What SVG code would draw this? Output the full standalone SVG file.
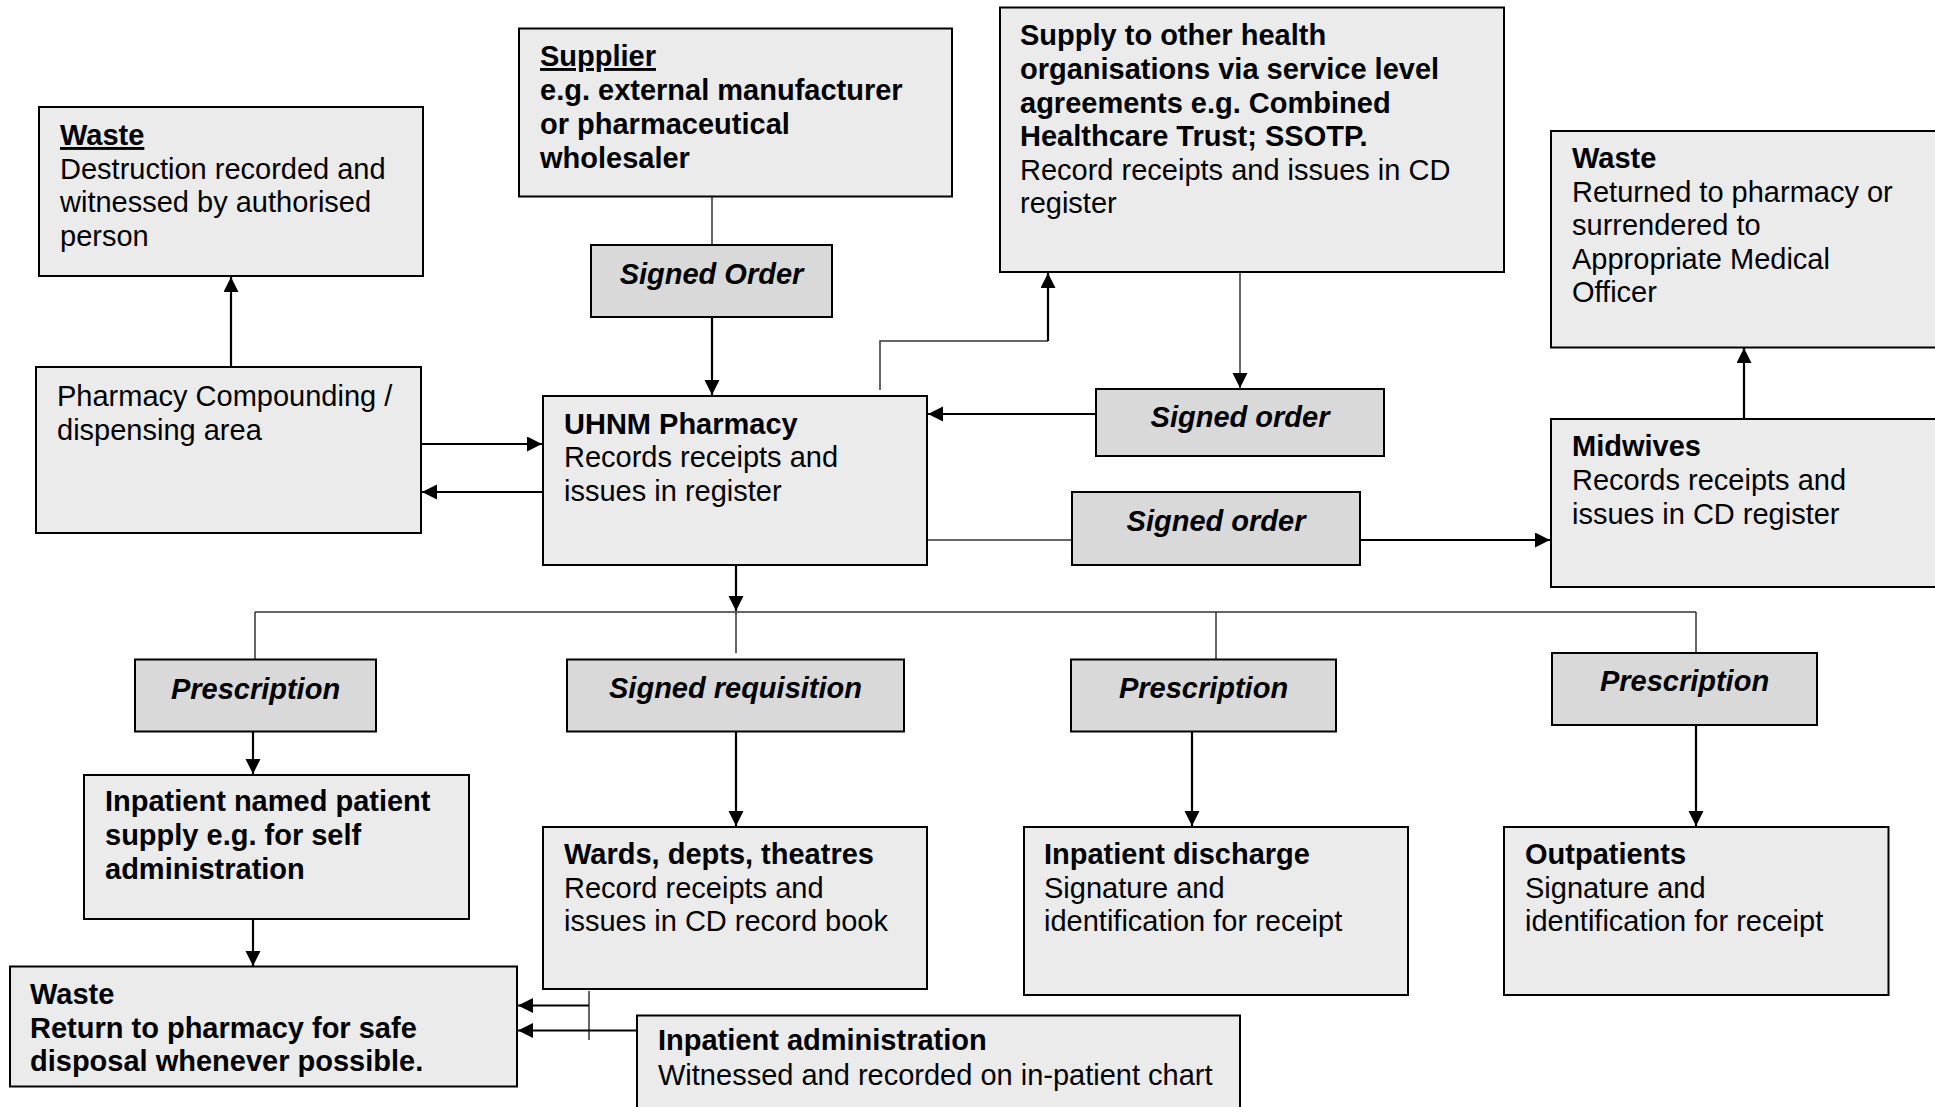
<svg xmlns="http://www.w3.org/2000/svg" width="1935" height="1107" viewBox="0 0 1935 1107">
<style>
text{font-family:"Liberation Sans",Arial,sans-serif;font-size:29px;fill:#000}
.b{font-weight:bold}
.u{text-decoration:underline}
.lbl{font-weight:bold;font-style:italic;text-anchor:middle}
.box{fill:#ebebeb;stroke:#000;stroke-width:2}
.lb{fill:#d9d9d9;stroke:#000;stroke-width:2}
.thick{fill:none;stroke:#000;stroke-width:2.2}
.thin{fill:none;stroke:#333;stroke-width:1.5}
</style>
<defs>
<marker id="ah" markerUnits="userSpaceOnUse" markerWidth="16" markerHeight="16" refX="15" refY="7.5" orient="auto">
<path d="M0,0 L15,7.5 L0,15 z" fill="#000"/>
</marker>
</defs>
<rect width="1935" height="1107" fill="#fff"/>

<g id="connectors">
<line class="thick" x1="231" y1="367" x2="231" y2="277" marker-end="url(#ah)"/>
<line class="thin" x1="712" y1="197" x2="712" y2="245"/>
<line class="thick" x1="712" y1="317" x2="712" y2="395" marker-end="url(#ah)"/>
<line class="thick" x1="422" y1="444" x2="542" y2="444" marker-end="url(#ah)"/>
<line class="thick" x1="543" y1="492" x2="422" y2="492" marker-end="url(#ah)"/>
<polyline class="thin" points="880,390 880,341 1048,341"/>
<line class="thick" x1="1048" y1="341" x2="1048" y2="273" marker-end="url(#ah)"/>
<line class="thin" x1="1240" y1="268" x2="1240" y2="388" marker-end="url(#ah)"/>
<line class="thick" x1="1096" y1="414" x2="928" y2="414" marker-end="url(#ah)"/>
<line class="thin" x1="927" y1="540" x2="1072" y2="540"/>
<line class="thick" x1="1360" y1="540" x2="1550" y2="540" marker-end="url(#ah)"/>
<line class="thick" x1="1744" y1="419" x2="1744" y2="348" marker-end="url(#ah)"/>
<line class="thick" x1="736" y1="565" x2="736" y2="611" marker-end="url(#ah)"/>
<line class="thin" x1="255" y1="612" x2="1696" y2="612"/>
<line class="thin" x1="255" y1="612" x2="255" y2="659"/>
<line class="thin" x1="736" y1="612" x2="736" y2="653"/>
<line class="thin" x1="1216" y1="612" x2="1216" y2="659"/>
<line class="thin" x1="1696" y1="612" x2="1696" y2="653"/>
<line class="thick" x1="253" y1="727" x2="253" y2="774" marker-end="url(#ah)"/>
<line class="thick" x1="736" y1="732" x2="736" y2="826" marker-end="url(#ah)"/>
<line class="thick" x1="1192" y1="732" x2="1192" y2="826" marker-end="url(#ah)"/>
<line class="thick" x1="1696" y1="725" x2="1696" y2="826" marker-end="url(#ah)"/>
<line class="thick" x1="253" y1="919" x2="253" y2="966" marker-end="url(#ah)"/>
<line class="thin" x1="589" y1="991" x2="589" y2="1040"/>
<line class="thick" x1="589" y1="1005.5" x2="518" y2="1005.5" marker-end="url(#ah)"/>
<line class="thick" x1="637" y1="1030.5" x2="518" y2="1030.5" marker-end="url(#ah)"/>
</g>

<g id="waste-top-left">
<rect class="box" x="39" y="107" width="384" height="169"/>
<text x="60" y="145" class="b u">Waste</text>
<text x="60" y="178.5">Destruction recorded and</text>
<text x="60" y="212">witnessed by authorised</text>
<text x="60" y="245.5">person</text>
</g>

<g id="compounding">
<rect class="box" x="36" y="367" width="385" height="166"/>
<text x="57" y="406">Pharmacy Compounding /</text>
<text x="57" y="440">dispensing area</text>
</g>

<g id="supplier">
<rect class="box" x="519" y="28.5" width="433" height="168"/>
<text x="540" y="66" class="b u">Supplier</text>
<text x="540" y="100" class="b">e.g. external manufacturer</text>
<text x="540" y="134" class="b">or pharmaceutical</text>
<text x="540" y="168" class="b">wholesaler</text>
</g>

<g id="signed-order-supplier">
<rect class="lb" x="591" y="245" width="241" height="72"/>
<text x="711.5" y="284" class="lbl">Signed Order</text>
</g>

<g id="supply-other">
<rect class="box" x="1000" y="7.5" width="504" height="264.5"/>
<text x="1020" y="45" class="b">Supply to other health</text>
<text x="1020" y="79" class="b">organisations via service level</text>
<text x="1020" y="112.5" class="b">agreements e.g. Combined</text>
<text x="1020" y="146" class="b">Healthcare Trust; SSOTP.</text>
<text x="1020" y="180">Record receipts and issues in CD</text>
<text x="1020" y="213">register</text>
</g>

<g id="uhnm">
<rect class="box" x="543" y="396" width="384" height="169"/>
<text x="564" y="433.5" class="b">UHNM Pharmacy</text>
<text x="564" y="467">Records receipts and</text>
<text x="564" y="500.5">issues in register</text>
</g>

<g id="signed-order-in">
<rect class="lb" x="1096" y="389" width="288" height="67"/>
<text x="1240" y="427" class="lbl">Signed order</text>
</g>

<g id="signed-order-out">
<rect class="lb" x="1072" y="492" width="288" height="73"/>
<text x="1216" y="530.5" class="lbl">Signed order</text>
</g>

<g id="waste-right">
<rect class="box" x="1551" y="131" width="400" height="216.5"/>
<text x="1572" y="168" class="b">Waste</text>
<text x="1572" y="201.5">Returned to pharmacy or</text>
<text x="1572" y="235">surrendered to</text>
<text x="1572" y="268.5">Appropriate Medical</text>
<text x="1572" y="302">Officer</text>
</g>

<g id="midwives">
<rect class="box" x="1551" y="419" width="400" height="168"/>
<text x="1572" y="456" class="b">Midwives</text>
<text x="1572" y="490">Records receipts and</text>
<text x="1572" y="523.5">issues in CD register</text>
</g>

<g id="prescription-1">
<rect class="lb" x="135" y="659.5" width="241" height="72"/>
<text x="255.5" y="698.5" class="lbl">Prescription</text>
</g>

<g id="signed-requisition">
<rect class="lb" x="567" y="659.5" width="337" height="72"/>
<text x="735.5" y="697.5" class="lbl">Signed requisition</text>
</g>

<g id="prescription-2">
<rect class="lb" x="1071" y="659.5" width="265" height="72"/>
<text x="1203.5" y="697.5" class="lbl">Prescription</text>
</g>

<g id="prescription-3">
<rect class="lb" x="1552" y="653" width="265" height="72"/>
<text x="1684.5" y="690.5" class="lbl">Prescription</text>
</g>

<g id="inpatient-named">
<rect class="box" x="84" y="775" width="385" height="144"/>
<text x="105" y="811" class="b">Inpatient named patient</text>
<text x="105" y="845" class="b">supply e.g. for self</text>
<text x="105" y="879" class="b">administration</text>
</g>

<g id="wards">
<rect class="box" x="543" y="827" width="384" height="162"/>
<text x="564" y="864" class="b">Wards, depts, theatres</text>
<text x="564" y="897.5">Record receipts and</text>
<text x="564" y="931">issues in CD record book</text>
</g>

<g id="discharge">
<rect class="box" x="1024" y="827" width="384" height="168"/>
<text x="1044" y="864" class="b">Inpatient discharge</text>
<text x="1044" y="897.5">Signature and</text>
<text x="1044" y="931">identification for receipt</text>
</g>

<g id="outpatients">
<rect class="box" x="1504" y="827" width="384.5" height="168"/>
<text x="1525" y="864" class="b">Outpatients</text>
<text x="1525" y="897.5">Signature and</text>
<text x="1525" y="931">identification for receipt</text>
</g>

<g id="waste-bottom-left">
<rect class="box" x="10" y="966.5" width="507" height="120"/>
<text x="30" y="1004" class="b">Waste</text>
<text x="30" y="1037.5" class="b">Return to pharmacy for safe</text>
<text x="30" y="1071" class="b">disposal whenever possible.</text>
</g>

<g id="inpatient-admin">
<rect class="box" x="637" y="1015.5" width="603" height="120"/>
<text x="658" y="1050" class="b">Inpatient administration</text>
<text x="658" y="1085">Witnessed and recorded on in-patient chart</text>
</g>
</svg>
